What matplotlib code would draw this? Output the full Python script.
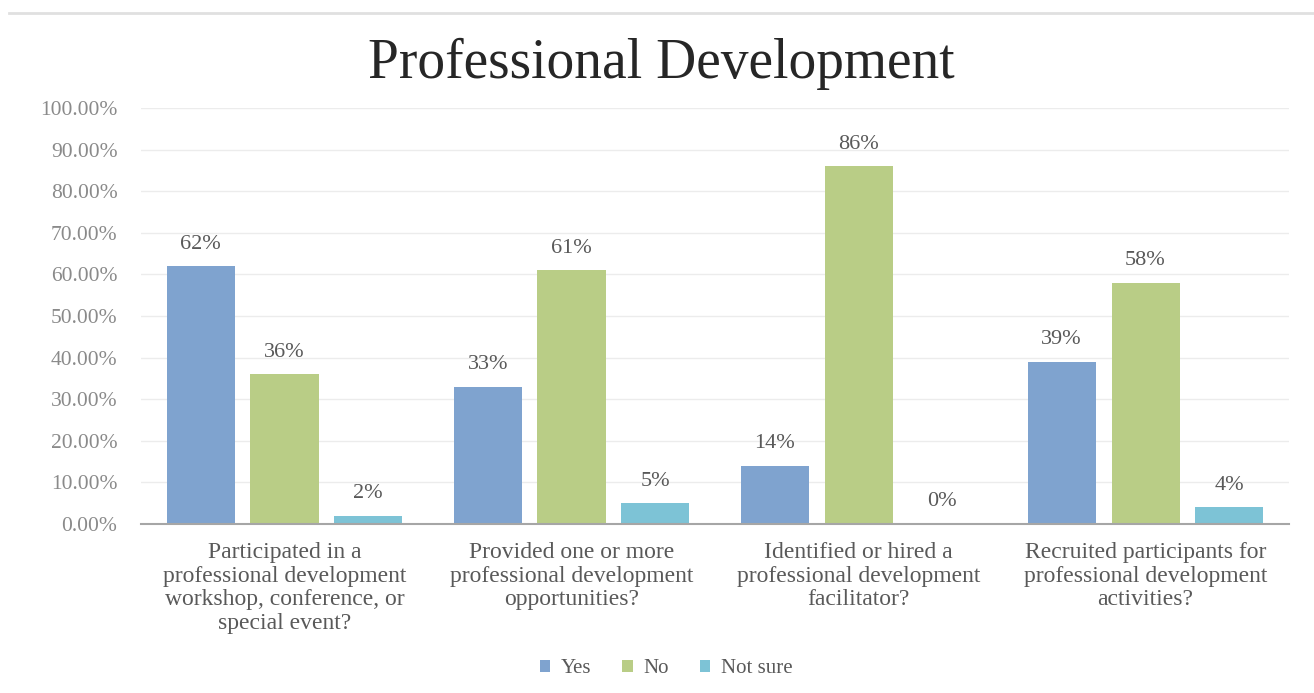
import numpy as np
import matplotlib.pyplot as plt
from matplotlib.lines import Line2D
from matplotlib.ticker import MultipleLocator, FuncFormatter

# survey answers, percent of respondents
questions = [
    "Participated in a\nprofessional development\nworkshop, conference, or\nspecial event?",
    "Provided one or more\nprofessional development\nopportunities?",
    "Identified or hired a\nprofessional development\nfacilitator?",
    "Recruited participants for\nprofessional development\nactivities?",
]
answers = ["Yes", "No", "Not sure"]
yes_pct = [62, 33, 14, 39]
no_pct = [36, 61, 86, 58]
notsure_pct = [2, 5, 0, 4]
colors = ["#7fa3cf", "#b9cd86", "#7dc3d6"]

plt.rcParams['font.family'] = ['Liberation Serif', 'DejaVu Serif']

fig = plt.figure(figsize=(13.14, 6.93), dpi=100)
ax = fig.add_axes([0.1073, 0.2439, 0.8737, 0.6003])

x = np.arange(len(questions))
width = 0.237
step = 0.292
for i, (name, vals) in enumerate(zip(answers, [yes_pct, no_pct, notsure_pct])):
    pos = x + (i - 1) * step
    bars = ax.bar(pos, vals, width, color=colors[i], label=name, zorder=2)
    for b, v in zip(bars, vals):
        ax.text(b.get_x() + b.get_width() / 2, v + 3.0, "{}%".format(v),
                ha='center', va='bottom', fontsize=16, color='#595959')

ax.set_xlim(-0.5, len(questions) - 0.5)
ax.set_ylim(0, 100)
ax.yaxis.set_major_locator(MultipleLocator(10))
ax.yaxis.set_major_formatter(FuncFormatter(lambda v, p: "{:.2f}%".format(v)))
ax.grid(axis='y', color='#ececec', linewidth=1, zorder=0)
ax.set_axisbelow(True)
for s in ['top', 'right', 'left']:
    ax.spines[s].set_visible(False)
ax.spines['bottom'].set_color('#a6a6a6')
ax.spines['bottom'].set_linewidth(1.5)
ax.tick_params(axis='y', length=0, labelsize=15.5, labelcolor='#8a8a8a', pad=17)
ax.tick_params(axis='x', length=0, pad=13)
ax.set_xticks(x)
ax.set_xticklabels(questions, fontsize=17, color='#595959', linespacing=1.17)

fig.suptitle("Professional Development", x=0.503, y=0.945, fontsize=40,
             color='#262626')

leg = fig.legend(loc='center', bbox_to_anchor=(0.507, 0.035), ncol=3,
                 frameon=False, fontsize=15, handlelength=0.5,
                 handleheight=0.5, handletextpad=0.5, columnspacing=1.5)
for t in leg.get_texts():
    t.set_color('#595959')

fig.add_artist(Line2D([0.007, 1.0], [0.981, 0.981], color='#e0e0e0', linewidth=2))

fig.savefig("out.png", dpi=100)
